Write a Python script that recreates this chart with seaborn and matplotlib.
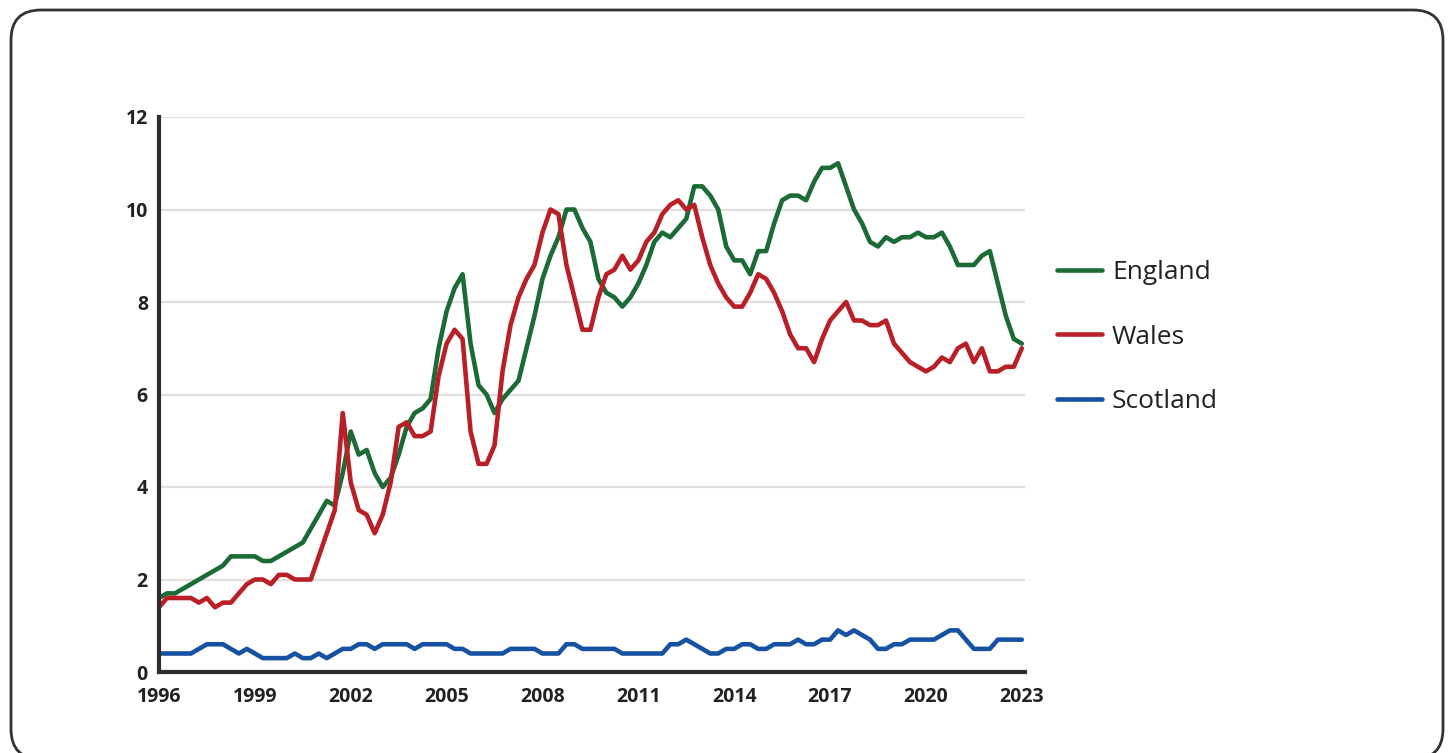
import numpy as np
import pandas as pd
import seaborn as sns
import matplotlib.pyplot as plt
from matplotlib.patches import FancyBboxPatch

# quarterly values, 1996 Q1 .. 2023 Q1
england = [1.6, 1.7, 1.7, 1.8, 1.9, 2.0, 2.1, 2.2, 2.3, 2.5,
           2.5, 2.5, 2.5, 2.4, 2.4, 2.5, 2.6, 2.7, 2.8, 3.1,
           3.4, 3.7, 3.6, 4.3, 5.2, 4.7, 4.8, 4.3, 4.0, 4.2,
           4.7, 5.3, 5.6, 5.7, 5.9, 7.0, 7.8, 8.3, 8.6, 7.1,
           6.2, 6.0, 5.6, 5.9, 6.1, 6.3, 7.0, 7.7, 8.5, 9.0,
           9.4, 10.0, 10.0, 9.6, 9.3, 8.5, 8.2, 8.1, 7.9, 8.1,
           8.4, 8.8, 9.3, 9.5, 9.4, 9.6, 9.8, 10.5, 10.5, 10.3,
           10.0, 9.2, 8.9, 8.9, 8.6, 9.1, 9.1, 9.7, 10.2, 10.3,
           10.3, 10.2, 10.6, 10.9, 10.9, 11.0, 10.5, 10.0, 9.7, 9.3,
           9.2, 9.4, 9.3, 9.4, 9.4, 9.5, 9.4, 9.4, 9.5, 9.2,
           8.8, 8.8, 8.8, 9.0, 9.1, 8.4, 7.7, 7.2, 7.1]
wales = [1.4, 1.6, 1.6, 1.6, 1.6, 1.5, 1.6, 1.4, 1.5, 1.5,
         1.7, 1.9, 2.0, 2.0, 1.9, 2.1, 2.1, 2.0, 2.0, 2.0,
         2.5, 3.0, 3.5, 5.6, 4.1, 3.5, 3.4, 3.0, 3.4, 4.1,
         5.3, 5.4, 5.1, 5.1, 5.2, 6.4, 7.1, 7.4, 7.2, 5.2,
         4.5, 4.5, 4.9, 6.5, 7.5, 8.1, 8.5, 8.8, 9.5, 10.0,
         9.9, 8.8, 8.1, 7.4, 7.4, 8.1, 8.6, 8.7, 9.0, 8.7,
         8.9, 9.3, 9.5, 9.9, 10.1, 10.2, 10.0, 10.1, 9.4, 8.8,
         8.4, 8.1, 7.9, 7.9, 8.2, 8.6, 8.5, 8.2, 7.8, 7.3,
         7.0, 7.0, 6.7, 7.2, 7.6, 7.8, 8.0, 7.6, 7.6, 7.5,
         7.5, 7.6, 7.1, 6.9, 6.7, 6.6, 6.5, 6.6, 6.8, 6.7,
         7.0, 7.1, 6.7, 7.0, 6.5, 6.5, 6.6, 6.6, 7.0]
scotland = [0.4, 0.4, 0.4, 0.4, 0.4, 0.5, 0.6, 0.6, 0.6, 0.5,
            0.4, 0.5, 0.4, 0.3, 0.3, 0.3, 0.3, 0.4, 0.3, 0.3,
            0.4, 0.3, 0.4, 0.5, 0.5, 0.6, 0.6, 0.5, 0.6, 0.6,
            0.6, 0.6, 0.5, 0.6, 0.6, 0.6, 0.6, 0.5, 0.5, 0.4,
            0.4, 0.4, 0.4, 0.4, 0.5, 0.5, 0.5, 0.5, 0.4, 0.4,
            0.4, 0.6, 0.6, 0.5, 0.5, 0.5, 0.5, 0.5, 0.4, 0.4,
            0.4, 0.4, 0.4, 0.4, 0.6, 0.6, 0.7, 0.6, 0.5, 0.4,
            0.4, 0.5, 0.5, 0.6, 0.6, 0.5, 0.5, 0.6, 0.6, 0.6,
            0.7, 0.6, 0.6, 0.7, 0.7, 0.9, 0.8, 0.9, 0.8, 0.7,
            0.5, 0.5, 0.6, 0.6, 0.7, 0.7, 0.7, 0.7, 0.8, 0.9,
            0.9, 0.7, 0.5, 0.5, 0.5, 0.7, 0.7, 0.7, 0.7]

nations = ["England", "Wales", "Scotland"]
colors = {"England": "#1c6b37", "Wales": "#b81f27", "Scotland": "#1652a1"}
year_ticks = [1996, 1999, 2002, 2005, 2008, 2011, 2014, 2017, 2020, 2023]
value_ticks = [0, 2, 4, 6, 8, 10, 12]

years = 1996 + np.arange(len(england)) * 0.25
df = pd.DataFrame({"year": years, "England": england, "Wales": wales, "Scotland": scotland})
df = df.melt(id_vars="year", var_name="nation", value_name="value")

sns.set_style("white")
plt.rcParams["font.family"] = ["Open Sans", "DejaVu Sans"]

W, H = 1454, 753
fig = plt.figure(figsize=(W / 100, H / 100), dpi=100)

# rounded frame round the whole card
bg = fig.add_axes([0, 0, 1, 1], zorder=-1)
bg.set_xlim(0, W)
bg.set_ylim(0, H)
bg.axis("off")
bg.add_patch(FancyBboxPatch((11, -6), W - 22, H - 4, boxstyle="round,pad=0,rounding_size=30",
                            facecolor="white", edgecolor="#333333", linewidth=2))

ax = fig.add_axes([159 / W, 81 / H, 866 / W, 555 / H])
sns.lineplot(data=df, x="year", y="value", hue="nation", hue_order=nations,
             palette=colors, linewidth=3.3, ax=ax)

ax.set_xlim(1996, 2023.1)
ax.set_ylim(0, 12)
ax.set_xticks(year_ticks)
ax.set_yticks(value_ticks)
ax.set_xlabel("")
ax.set_ylabel("")
ax.grid(axis="y", color="#e3dfdc", linewidth=1.6)
ax.set_axisbelow(True)
for side in ["top", "right"]:
    ax.spines[side].set_visible(False)
for side in ["left", "bottom"]:
    ax.spines[side].set_color("#2e2e2e")
    ax.spines[side].set_linewidth(3)
ax.tick_params(length=0, labelsize=14, colors="#222222")
ax.tick_params(axis="x", pad=11)
ax.tick_params(axis="y", pad=8)
for lab in ax.get_xticklabels() + ax.get_yticklabels():
    lab.set_fontweight("bold")

old = ax.get_legend()
handles = old.legend_handles
labels = [t.get_text() for t in old.get_texts()]
for h in handles:
    h.set_linewidth(3.3)
ax.legend(handles, labels, loc="center left", bbox_to_anchor=(1057 / W, 416 / H),
          bbox_transform=fig.transFigure, frameon=False, fontsize=19,
          handlelength=1.7, handletextpad=0.38, labelspacing=1.5,
          borderpad=0, borderaxespad=0, labelcolor="#222222")

fig.savefig("out.png", dpi=100)
